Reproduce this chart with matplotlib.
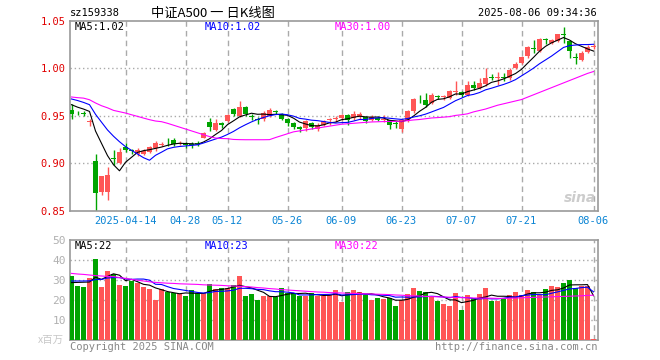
import numpy as np
import pandas as pd
import matplotlib
matplotlib.use("Agg")
import matplotlib.pyplot as plt

# daily OHLC, 2025-03-31 .. 2025-08-06 (88 trading days)
opens = [0.956, 0.953, 0.9525, 0.943, 0.902, 0.870, 0.870, 0.905, 0.900, 0.917,
         0.9135, 0.910, 0.910, 0.912, 0.916, 0.9195, 0.9235, 0.924, 0.9205, 0.920,
         0.9195, 0.921, 0.927, 0.943, 0.935, 0.942, 0.944, 0.957, 0.950, 0.959,
         0.9495, 0.946, 0.9465, 0.950, 0.9545, 0.952, 0.946, 0.942, 0.9385, 0.937,
         0.942, 0.936, 0.9405, 0.9455, 0.947, 0.9475, 0.951, 0.9475, 0.949, 0.9485,
         0.9458, 0.948, 0.946, 0.945, 0.9415, 0.9355, 0.944, 0.9545, 0.9655, 0.966,
         0.9635, 0.9705, 0.970, 0.969, 0.975, 0.975, 0.972, 0.9825, 0.979, 0.9835,
         0.990, 0.9895, 0.990, 0.9897, 1.000, 1.0055, 1.0125, 1.021, 1.0185, 1.0305,
         1.0265, 1.029, 1.0355, 1.029, 1.011, 1.009, 1.0175, 1.022]
highs = [0.962, 0.955, 0.955, 0.9465, 0.910, 0.887, 0.896, 0.914, 0.916, 0.921,
         0.915, 0.916, 0.915, 0.918, 0.923, 0.922, 0.9265, 0.926, 0.923, 0.9227,
         0.922, 0.923, 0.933, 0.948, 0.947, 0.943, 0.952, 0.958, 0.966, 0.960,
         0.952, 0.949, 0.955, 0.958, 0.956, 0.953, 0.948, 0.943, 0.939, 0.945,
         0.943, 0.942, 0.945, 0.9475, 0.950, 0.952, 0.952, 0.955, 0.954, 0.950,
         0.951, 0.950, 0.951, 0.946, 0.944, 0.9465, 0.956, 0.9686, 0.972, 0.9735,
         0.974, 0.972, 0.972, 0.977, 0.986, 0.976, 0.986, 0.986, 0.990, 1.000,
         0.9935, 0.9955, 0.995, 1.000, 1.007, 1.013, 1.023, 1.030, 1.0315, 1.0315,
         1.031, 1.036, 1.043, 1.030, 1.016, 1.0185, 1.024, 1.0255]
lows = [0.9465, 0.9505, 0.950, 0.9395, 0.850, 0.866, 0.861, 0.898, 0.899, 0.912,
        0.910, 0.908, 0.909, 0.911, 0.913, 0.918, 0.9177, 0.918, 0.919, 0.916,
        0.916, 0.918, 0.926, 0.934, 0.934, 0.937, 0.943, 0.950, 0.949, 0.950,
        0.946, 0.941, 0.944, 0.949, 0.952, 0.945, 0.939, 0.936, 0.933, 0.934,
        0.936, 0.934, 0.939, 0.9405, 0.943, 0.946, 0.940, 0.945, 0.947, 0.942,
        0.944, 0.944, 0.943, 0.9355, 0.9375, 0.933, 0.943, 0.953, 0.9635, 0.9595,
        0.962, 0.9675, 0.967, 0.968, 0.972, 0.970, 0.971, 0.977, 0.978, 0.981,
        0.988, 0.9826, 0.987, 0.988, 0.999, 1.004, 1.0105, 1.016, 1.017, 1.0255,
        1.025, 1.028, 1.0265, 1.0107, 1.0045, 1.0075, 1.016, 1.0205]
closes = [0.952, 0.9525, 0.952, 0.944, 0.869, 0.887, 0.888, 0.904, 0.912, 0.914,
          0.913, 0.914, 0.913, 0.917, 0.921, 0.920, 0.923, 0.920, 0.921, 0.9195,
          0.919, 0.920, 0.932, 0.938, 0.942, 0.940, 0.951, 0.952, 0.959, 0.952,
          0.949, 0.9455, 0.953, 0.956, 0.954, 0.9465, 0.9425, 0.938, 0.9355, 0.944,
          0.938, 0.9405, 0.944, 0.946, 0.9475, 0.951, 0.945, 0.952, 0.952, 0.944,
          0.949, 0.946, 0.9468, 0.940, 0.941, 0.945, 0.9545, 0.9675, 0.965, 0.9615,
          0.972, 0.970, 0.9705, 0.9755, 0.9765, 0.9715, 0.9826, 0.979, 0.9845, 0.990,
          0.9895, 0.990, 0.9895, 0.9984, 1.0045, 1.0115, 1.022, 1.0205, 1.031, 1.030,
          1.030, 1.0355, 1.035, 1.0177, 1.0105, 1.0165, 1.022, 1.0235]
# volume, millions
volume = [32.2, 27, 26.5, 31, 40.5, 26.5, 34.5, 33, 27.5, 27,
          29.7, 28.5, 26.5, 25.5, 20, 25.3, 23.8, 23.7, 22.8, 22,
          24.8, 23.5, 23.3, 28, 25.5, 26, 25.8, 27.3, 32.2, 22,
          23, 20, 22, 22, 21.3, 25.8, 23.5, 23.7, 22, 22,
          23.3, 22, 22, 22.5, 25, 19.2, 24, 25, 24, 22.5,
          20, 21, 20.5, 21, 17, 20, 23, 26, 24.5, 24,
          21.7, 19.7, 18, 17, 23.7, 15, 22.5, 21, 23, 26,
          19.7, 19.7, 21, 22.5, 24, 22.5, 25, 24, 22.5, 25.5,
          27, 26.5, 28.5, 30, 26, 27, 27, 0.7]

ma5_head = [0.9616, 0.959, 0.957, 0.9545]
ma10_head = [0.9676, 0.966, 0.964, 0.9616, 0.9515, 0.9432, 0.935, 0.9284, 0.9226]
ma30 = [0.9697, 0.969, 0.9685, 0.9668, 0.9634, 0.9605, 0.9583, 0.9556, 0.9542, 0.9528,
        0.951, 0.9493, 0.9475, 0.9458, 0.9444, 0.9437, 0.942, 0.940, 0.938, 0.936,
        0.934, 0.932, 0.930, 0.928, 0.9265, 0.926, 0.9258, 0.925, 0.9248, 0.9247,
        0.9247, 0.9247, 0.9247, 0.9248, 0.927, 0.929, 0.931, 0.933, 0.934, 0.935,
        0.936, 0.937, 0.938, 0.939, 0.940, 0.941, 0.9415, 0.942, 0.9425, 0.943,
        0.9434, 0.9436, 0.9438, 0.944, 0.944, 0.9442, 0.9448, 0.9455, 0.946, 0.9468,
        0.9476, 0.948, 0.9485, 0.949, 0.9503, 0.951, 0.952, 0.954, 0.9555, 0.957,
        0.959, 0.961, 0.9625, 0.964, 0.9655, 0.967, 0.9695, 0.972, 0.9745, 0.977,
        0.9795, 0.982, 0.9845, 0.987, 0.9895, 0.992, 0.9945, 0.9965]
vma5_head = [28.7, 28.8, 28.9, 29.0]
vma10_head = [29.5, 29.5, 29.5, 29.6, 30.2, 30.3, 31.0, 31.2, 31.2]
vma30 = [33.3, 33.0, 32.8, 32.5, 32.2, 32.0, 31.8, 31.7, 31.2, 30.8,
         30.3, 29.9, 29.5, 29.1, 28.8, 28.6, 28.4, 28.3, 28.1, 28.0,
         27.9, 27.8, 27.6, 27.5, 27.4, 27.3, 27.1, 27.0, 26.9, 26.7,
         26.5, 26.2, 26.0, 25.7, 25.5, 25.2, 25.0, 24.8, 24.6, 24.4,
         24.2, 24.0, 23.9, 23.7, 23.6, 23.5, 23.4, 23.3, 23.2, 23.1,
         23.0, 22.9, 22.8, 22.7, 22.5, 22.4, 22.2, 22.1, 22.0, 21.8,
         21.7, 21.6, 21.5, 21.4, 21.3, 21.2, 21.1, 21.0, 21.0, 20.9,
         20.9, 20.8, 20.8, 20.9, 21.0, 21.1, 21.2, 21.3, 21.4, 21.5,
         21.6, 21.7, 21.8, 21.9, 22.0, 22.1, 22.3, 22.4]

# legend values as printed on the chart
price_ma_labels = ["MA5:1.02", "MA10:1.02", "MA30:1.00"]
vol_ma_labels = ["MA5:22", "MA10:23", "MA30:22"]

tick_idx = [9, 19, 26, 36, 45, 55, 65, 75, 87]
tick_labels = ["2025-04-14", "04-28", "05-12", "05-26", "06-09", "06-23", "07-07", "07-21", "08-06"]

RED = "#ff5656"
GREEN = "#00a400"
GRID = "#aaaaaa"
MA_COLORS = ["black", "#0000ff", "#ff00ff"]
MONO = "DejaVu Sans Mono"
W, H = 660, 360


def rect(x0, y0, x1, y1):
    return [x0 / W, 1 - y1 / H, (x1 - x0) / W, (y1 - y0) / H]


def ftext(x, y, s, **kw):
    fig.text(x / W, 1 - y / H, s, **kw)


def rolling_with_head(values, n, head):
    ma = pd.Series(values).rolling(n).mean().to_numpy()
    ma[:len(head)] = head
    return ma


n = len(closes)
idx = np.arange(n)
o = np.array(opens); c = np.array(closes)
up = c >= o
colors = [RED if u else GREEN for u in up]

ma5 = rolling_with_head(closes, 5, ma5_head)
ma10 = rolling_with_head(closes, 10, ma10_head)
vma5 = rolling_with_head(volume, 5, vma5_head)
vma10 = rolling_with_head(volume, 10, vma10_head)

fig = plt.figure(figsize=(6.6, 3.6), dpi=100)
ax = fig.add_axes(rect(70, 20.7, 598, 210.7))
axv = fig.add_axes(rect(70, 240, 598, 340))

for a in (ax, axv):
    a.set_xlim(-0.25, n - 0.25)
    for s in a.spines.values():
        s.set_color("#999999")
        s.set_linewidth(1.2)
    for t in tick_idx:
        a.axvline(t, color=GRID, lw=1, dashes=(4, 3), zorder=0)
    a.tick_params(length=0)

# candles
ax.vlines(idx, lows, highs, colors=colors, lw=1, zorder=2)
body = np.maximum(np.abs(c - o), 0.0008)
ax.bar(idx, body, bottom=np.minimum(o, c), width=0.8, color=colors, zorder=3)
for line, col in zip((ma5, ma10, ma30), MA_COLORS):
    ax.plot(idx, line, color=col, lw=0.8, zorder=4)
ax.set_ylim(0.85, 1.05)
for yv in (0.90, 0.95, 1.00):
    ax.axhline(yv, color=GRID, lw=1, dashes=(1, 2), zorder=0)
ax.set_yticks([0.85, 0.90, 0.95, 1.00, 1.05])
ax.set_yticklabels(["%.2f" % v for v in [0.85, 0.90, 0.95, 1.00, 1.05]],
                   color="#e00000", fontsize=7.5, family=MONO)
ax.set_xticks(tick_idx)
ax.set_xticklabels(tick_labels, color="#0a84d4", fontsize=7.5, family=MONO)
ax.tick_params(axis="y", pad=3)
ax.tick_params(axis="x", pad=4)

# volume
axv.bar(idx, volume, width=0.8, color=colors, zorder=3)
for line, col in zip((vma5, vma10, vma30), MA_COLORS):
    axv.plot(idx, line, color=col, lw=0.8, zorder=4)
axv.set_ylim(0, 50)
for yv in (10, 20, 30, 40):
    axv.axhline(yv, color=GRID, lw=1, dashes=(1, 2), zorder=0)
axv.set_yticks([10, 20, 30, 40, 50])
axv.set_yticklabels(["10", "20", "30", "40", "50"], color="#b0b0b0", fontsize=8, family=MONO)
axv.set_xticks([])
axv.tick_params(axis="y", pad=3)

# header texts
ftext(70, 13, "sz159338", fontsize=7.5, family=MONO, va="center", ha="left")
ftext(213, 13, "中证A500 一 日K线图", fontsize=9.5,
      family=["Noto Sans CJK SC", "DejaVu Sans"], va="center", ha="center")
ftext(597, 13, "2025-08-06 09:34:36", fontsize=7.5, family=MONO, va="center", ha="right")

# MA labels
for xpos, lab, col in zip((75, 205, 335), price_ma_labels, MA_COLORS):
    ftext(xpos, 27, lab, fontsize=7.5, family=MONO, va="center", color=col)
for xpos, lab, col in zip((75, 205, 335), vol_ma_labels, MA_COLORS):
    ftext(xpos, 246, lab, fontsize=7.5, family=MONO, va="center", color=col)

# footer
ftext(70, 347, "Copyright 2025 SINA.COM", fontsize=7.5, family=MONO, va="center", color="#888888")
ftext(597, 347, "http://finance.sina.com.cn", fontsize=7.5, family=MONO, va="center",
      ha="right", color="#888888")
ftext(64, 340, "x百万", fontsize=7.5, family=["Noto Sans CJK SC", "DejaVu Sans"],
      va="center", ha="right", color="#c8c8c8")
ftext(596, 198, "sina", fontsize=10, fontweight="bold", style="italic", va="center",
      ha="right", color="#c0c0c0", alpha=0.8)

fig.savefig("out.png", dpi=100)
